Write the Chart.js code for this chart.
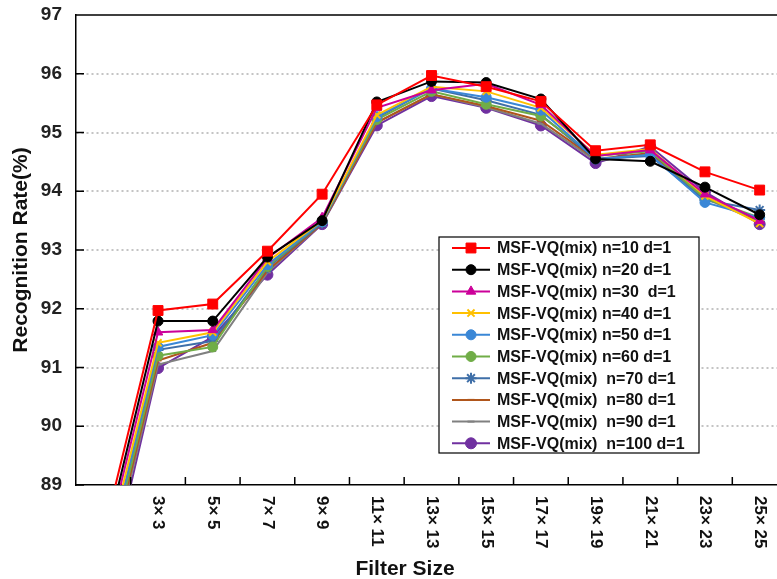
<!DOCTYPE html>
<html>
<head>
<meta charset="utf-8">
<script src="https://cdn.jsdelivr.net/npm/chart.js@4"></script>
<style>
  html, body { margin: 0; padding: 0; background: #fff; overflow: hidden; }
  #wrap { position: relative; width: 800px; height: 579px; }
</style>
</head>
<body>
<div id="wrap"><canvas id="chart"></canvas></div>
<script>
// first slot (1x1) has no visible label in the figure
const filterSizes = ['', '3× 3', '5× 5', '7× 7', '9× 9', '11× 11', '13× 13', '15× 15', '17× 17', '19× 19', '21× 21', '23× 23', '25× 25'];
const yTickValues = [89, 90, 91, 92, 93, 94, 95, 96, 97];

const n10  = [88.15, 91.97, 92.08, 92.98, 93.95, 95.47, 95.97, 95.78, 95.53, 94.69, 94.79, 94.33, 94.02];
const n20  = [87.93, 91.79, 91.79, 92.88, 93.50, 95.52, 95.87, 95.85, 95.57, 94.55, 94.51, 94.07, 93.60];
const n30  = [87.80, 91.60, 91.64, 92.86, 93.55, 95.42, 95.72, 95.83, 95.47, 94.60, 94.70, 93.95, 93.50];
const n40  = [87.65, 91.42, 91.60, 92.80, 93.50, 95.30, 95.78, 95.70, 95.42, 94.62, 94.72, 93.92, 93.45];
const n50  = [87.50, 91.35, 91.55, 92.75, 93.48, 95.27, 95.75, 95.60, 95.38, 94.55, 94.62, 93.81, 93.55];
const n60  = [87.40, 91.20, 91.35, 92.72, 93.48, 95.22, 95.70, 95.48, 95.28, 94.60, 94.68, 93.88, 93.55];
const n70  = [87.35, 91.30, 91.45, 92.70, 93.46, 95.25, 95.75, 95.55, 95.30, 94.55, 94.60, 93.85, 93.68];
const n80  = [87.30, 91.12, 91.42, 92.65, 93.45, 95.17, 95.65, 95.45, 95.20, 94.55, 94.65, 93.90, 93.50];
const n90  = [87.20, 91.05, 91.28, 92.62, 93.45, 95.17, 95.65, 95.43, 95.15, 94.52, 94.63, 93.88, 93.48];
const n100 = [87.00, 90.99, 91.52, 92.58, 93.44, 95.12, 95.62, 95.42, 95.12, 94.48, 94.76, 93.99, 93.44];

const seriesLabels = [
    'MSF-VQ(mix) n=10 d=1',
    'MSF-VQ(mix) n=20 d=1',
    'MSF-VQ(mix) n=30  d=1',
    'MSF-VQ(mix) n=40 d=1',
    'MSF-VQ(mix) n=50 d=1',
    'MSF-VQ(mix) n=60 d=1',
    'MSF-VQ(mix)  n=70 d=1',
    'MSF-VQ(mix)  n=80 d=1',
    'MSF-VQ(mix)  n=90 d=1',
    'MSF-VQ(mix)  n=100 d=1'
];
const seriesData = [n10, n20, n30, n40, n50, n60, n70, n80, n90, n100];
const colors = ['#ff0000', '#000000', '#cc0099', '#ffc000', '#3a87d6', '#70ad47', '#3f6fa8', '#b0561c', '#808080', '#7030a0'];
const markers = ['rect', 'circle', 'triangle', 'crossRot', 'circle', 'circle', 'star', 'line', 'line', 'circle'];
const markerSizes = [7, 5, 5.5, 5, 5, 5, 5.5, 3.5, 3.5, 5.5];

const FONT = "'Liberation Sans', Arial, sans-serif";

const datasets = seriesData.map((d, i) => ({
    label: seriesLabels[i],
    data: d,
    borderColor: colors[i],
    backgroundColor: colors[i],
    pointBackgroundColor: colors[i],
    pointBorderColor: colors[i],
    pointStyle: markers[i],
    pointRadius: markerSizes[i],
    pointBorderWidth: markers[i] === 'crossRot' || markers[i] === 'star' || markers[i] === 'line' ? 2 : 1,
    borderWidth: 2,
    tension: 0
}));

// ticks inside the frame, rotated x labels, x title and the boxed legend
const overlay = {
    id: 'overlay',
    afterDraw(chart) {
        const {ctx, chartArea: a, scales: {x, y}} = chart;
        ctx.save();
        ctx.strokeStyle = '#000';
        ctx.lineWidth = 1.5;
        ctx.beginPath();
        ctx.moveTo(a.left, a.top);
        ctx.lineTo(a.right, a.top);
        yTickValues.forEach(v => {
            const py = y.getPixelForValue(v);
            ctx.moveTo(a.left, py);
            ctx.lineTo(a.left + 8, py);
        });
        for (let i = 0; i < filterSizes.length - 1; i++) {
            const px = (x.getPixelForValue(i) + x.getPixelForValue(i + 1)) / 2;
            ctx.moveTo(px, a.bottom);
            ctx.lineTo(px, a.bottom - 8);
        }
        ctx.stroke();

        ctx.fillStyle = '#111';
        ctx.font = 'bold 17px ' + FONT;
        ctx.textAlign = 'left';
        ctx.textBaseline = 'middle';
        filterSizes.forEach((lab, i) => {
            if (!lab) return;
            ctx.save();
            ctx.translate(x.getPixelForValue(i), a.bottom + 11);
            ctx.rotate(Math.PI / 2);
            ctx.fillText(lab, 0, 0);
            ctx.restore();
        });

        ctx.font = 'bold 21px ' + FONT;
        ctx.textAlign = 'center';
        ctx.textBaseline = 'alphabetic';
        ctx.fillText('Filter Size', 405, 575);

        // legend
        const lx = 439, ly = 237, lw = 260, lh = 216;
        ctx.fillStyle = '#fff';
        ctx.fillRect(lx, ly, lw, lh);
        ctx.strokeStyle = '#000';
        ctx.lineWidth = 1.2;
        ctx.strokeRect(lx, ly, lw, lh);
        ctx.font = 'bold 16px ' + FONT;
        ctx.textAlign = 'left';
        ctx.textBaseline = 'middle';
        chart.data.datasets.forEach((ds, i) => {
            const ry = ly + 11 + i * 21.7;
            ctx.strokeStyle = ds.borderColor;
            ctx.lineWidth = 2;
            ctx.beginPath();
            ctx.moveTo(lx + 13, ry);
            ctx.lineTo(lx + 51, ry);
            ctx.stroke();
            if (Chart.helpers && Chart.helpers.drawPoint) {
                ctx.fillStyle = ds.pointBackgroundColor;
                ctx.strokeStyle = ds.pointBorderColor;
                ctx.lineWidth = ds.pointBorderWidth;
                Chart.helpers.drawPoint(ctx, {
                    pointStyle: ds.pointStyle,
                    radius: ds.pointRadius,
                    borderWidth: ds.pointBorderWidth,
                    rotation: 0
                }, lx + 32, ry);
            }
            ctx.fillStyle = '#111';
            ctx.fillText(ds.label, lx + 58, ry + 1);
        });
        ctx.restore();
    }
};

new Chart(document.getElementById('chart').getContext('2d'), {
    type: 'line',
    data: {
        labels: filterSizes,
        datasets: datasets
    },
    options: {
        responsive: true,
        maintainAspectRatio: false,
        animation: false,
        layout: { padding: { top: 15, right: 13, left: 0, bottom: 0 } },
        scales: {
            x: {
                offset: true,
                grid: { display: false },
                ticks: { display: false },
                border: { display: true, color: '#000', width: 1.5 },
                afterFit: s => { s.height = 94; }
            },
            y: {
                min: 89,
                max: 97,
                ticks: {
                    stepSize: 1,
                    color: '#222',
                    padding: 14,
                    font: { family: FONT, weight: 'bold', size: 19 }
                },
                grid: {
                    drawTicks: false,
                    lineWidth: 2,
                    color: c => (c.tick && (c.tick.value === 89 || c.tick.value === 97)) ? 'rgba(0,0,0,0)' : '#c4c4c4'
                },
                border: { display: true, color: '#000', width: 1.5, dash: [2, 3] },
                title: {
                    display: true,
                    text: 'Recognition Rate(%)',
                    color: '#111',
                    font: { family: FONT, weight: 'bold', size: 21 },
                    padding: { top: 9, bottom: 0 }
                },
                afterFit: s => {
                    s.width = 76;
                    s.paddingTop = 0;
                    s.paddingBottom = 0;
                }
            }
        },
        plugins: {
            legend: { display: false },
            tooltip: { enabled: false }
        }
    },
    plugins: [overlay]
});
</script>
</body>
</html>
